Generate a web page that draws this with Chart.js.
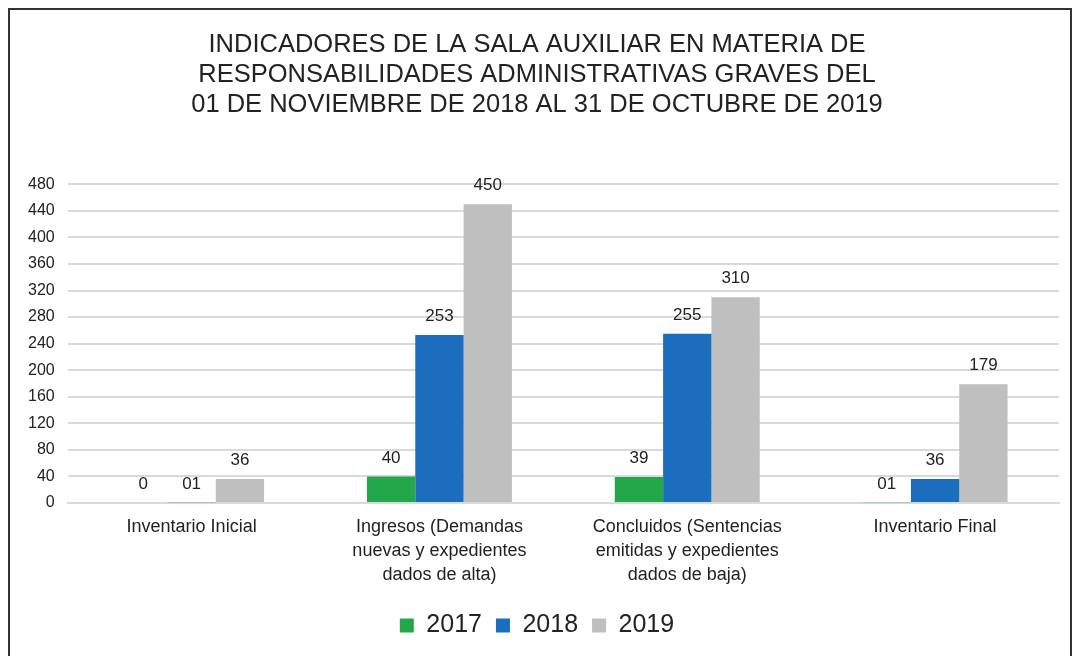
<!DOCTYPE html>
<html>
<head>
<meta charset="utf-8">
<script src="https://cdn.jsdelivr.net/npm/chart.js@4/dist/chart.umd.min.js"></script>
<style>
  html, body { margin: 0; padding: 0; background: #fff; }
  #wrap { position: relative; width: 1073px; height: 656px; overflow: hidden; }
  #c { position: absolute; left: 0; top: 0; }
  #frame { position: absolute; left: 8px; top: 8px; width: 1060px; height: 700px;
           border: 2px solid #333; pointer-events: none; }
</style>
</head>
<body>
<div id="wrap">
  <canvas id="c" width="1073" height="656"></canvas>
  <div id="frame"></div>
</div>
<script>
const categories = [
  "Inventario Inicial",
  ["Ingresos (Demandas", "nuevas y expedientes", "dados de alta)"],
  ["Concluidos (Sentencias", "emitidas y expedientes", "dados de baja)"],
  "Inventario Final"
];
const seriesNames = ["2017", "2018", "2019"];
const values2017 = [0, 40, 39, 1];
const values2018 = [1, 253, 255, 36];
const values2019 = [36, 450, 310, 179];
const labels2017 = ["0", "40", "39", "01"];
const labels2018 = ["01", "253", "255", "36"];
const labels2019 = ["36", "450", "310", "179"];
const yTicks = { min: 0, max: 480, step: 40 };
const titleLines = [
  "INDICADORES DE LA SALA AUXILIAR EN MATERIA DE",
  "RESPONSABILIDADES ADMINISTRATIVAS GRAVES DEL",
  "01 DE NOVIEMBRE DE 2018 AL 31 DE OCTUBRE DE 2019"
];

const colors = ["#22a84a", "#1b6ebd", "#bfbfbf"];
const FONT = "'Liberation Sans', Arial, sans-serif";

const valueLabelPlugin = {
  id: "valueLabels",
  afterDatasetsDraw(chart) {
    const ctx = chart.ctx;
    ctx.save();
    ctx.font = "17px " + FONT;
    ctx.fillStyle = "#222";
    ctx.textAlign = "center";
    ctx.textBaseline = "bottom";
    chart.data.datasets.forEach((ds, i) => {
      const meta = chart.getDatasetMeta(i);
      meta.data.forEach((bar, j) => {
        ctx.fillText(ds.valueLabels[j], bar.x, bar.y - 10);
      });
    });
    ctx.restore();
  }
};

new Chart(document.getElementById("c"), {
  type: "bar",
  data: {
    labels: categories,
    datasets: [
      { label: seriesNames[0], data: values2017, valueLabels: labels2017, backgroundColor: colors[0] },
      { label: seriesNames[1], data: values2018, valueLabels: labels2018, backgroundColor: colors[1] },
      { label: seriesNames[2], data: values2019, valueLabels: labels2019, backgroundColor: colors[2] }
    ]
  },
  options: {
    responsive: false,
    animation: false,
    layout: { padding: { left: 15, right: 14, top: 0, bottom: 8 } },
    datasets: { bar: { categoryPercentage: 0.585, barPercentage: 1.0 } },
    plugins: {
      title: {
        display: true,
        text: titleLines,
        color: "#222",
        font: { family: FONT, size: 25.5, weight: "normal", lineHeight: 1.18 },
        padding: { top: 30, bottom: 64 }
      },
      legend: {
        position: "bottom",
        labels: {
          color: "#222",
          font: { family: FONT, size: 25 },
          boxWidth: 14,
          boxHeight: 14,
          padding: 14
        }
      },
      tooltip: { enabled: false }
    },
    scales: {
      x: {
        grid: { display: false, drawTicks: false },
        border: { display: true, color: "#d9d9d9", width: 2 },
        ticks: {
          color: "#222",
          font: { family: FONT, size: 18, lineHeight: 1.333 },
          maxRotation: 0,
          autoSkip: false,
          padding: 12
        }
      },
      y: {
        min: yTicks.min,
        max: yTicks.max,
        grid: { color: "#d9d9d9", lineWidth: 2, drawTicks: false },
        border: { display: false },
        ticks: {
          stepSize: yTicks.step,
          color: "#222",
          font: { family: FONT, size: 16 },
          padding: 13
        }
      }
    }
  },
  plugins: [valueLabelPlugin]
});
</script>
</body>
</html>
